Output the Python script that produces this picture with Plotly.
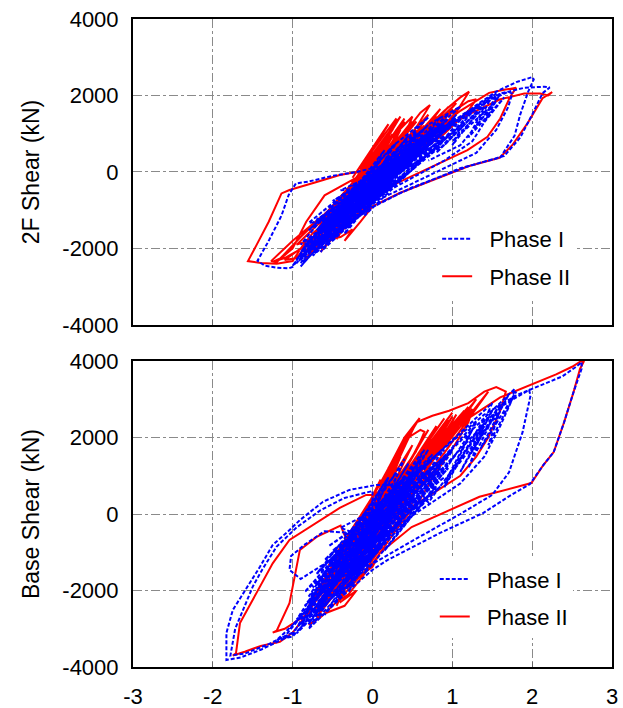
import plotly.graph_objects as go

# ---------------- data (drift %, shear kN) ----------------
# Top panel: 2F shear, Phase I
top_p1_x = [
    0.0, 0.15, 0.05, -0.15, -0.05, 0.2, 0.25, 0.15, -0.2, -0.3, -0.2, 0.1, 0.3, 0.35, 0.25, -0.1, -0.35, -0.4, -0.3, 0.0,
    0.4, 0.5, 0.4, 0.0, -0.45, -0.55, -0.45, -0.1, 0.3, 0.6, 0.7, 0.6, 0.2, -0.3, -0.6, -0.7, -0.6, -0.2,
    0.3, 0.8, 0.9, 0.8, 0.4, -0.2, -0.7, -0.8, -0.7, -0.3, 0.2, 0.7, 1.0, 1.05, 0.9, 0.5, 0.0, -0.5, -0.85, -0.9, -0.8, -0.4,
    0.1, 0.6, 1.0, 1.3, 1.55, 1.8, 2.0, 2.02, 1.95, 1.85, 1.78, 1.6, 1.1, 0.35, 0.0, -0.4, -0.8, -1.0, -0.95, -0.7, -0.4,
    0.0, 0.4, 0.55, 0.45, 0.1, -0.3, -0.5, -0.4, -0.1, 0.3, 0.65, 0.75, 0.6, 0.2, -0.2, -0.55, -0.65, -0.5, -0.1, 0.25, 0.5, 0.45, 0.1, -0.25, -0.35, -0.2,
    0.2, 0.7, 1.2, 1.6, 1.9, 2.15, 2.22, 2.13, 2.0, 1.85, 1.65, 1.2, 0.5, 0.1, -0.3, -0.7, -0.9, -0.85, -0.6,
    -0.2, 0.3, 0.7, 0.8, 0.6, 0.2, -0.2, -0.5, -0.8, -0.96, -1.05, -1.14, -1.3, -1.44, -1.35, -1.2, -1.05, -1.0, -0.85, -0.6, -0.3,
    0.2, 0.7, 1.1, 1.4, 1.55, 1.5, 1.4, 1.25, 0.9, 0.5, 0.1, -0.3, -0.6, -0.75, -0.65, -0.3, 0.2, 0.8, 1.2, 1.45, 1.7, 1.75, 1.7, 1.55, 1.3, 0.9, 0.4, 0.0, -0.3,
    -0.5, -0.6, -0.5, -0.2, 0.1, 0.4, 0.5, 0.4, 0.1, -0.2, -0.4, -0.3, 0.0, 0.3, 0.6, 0.85, 0.95, 0.85, 0.5, 0.1, -0.2, -0.45, -0.55, -0.4, -0.1, 0.2, 0.3, 0.2, 0.0,
    0.2, -0.4, 0.5, -0.2, 0.7, -0.6, 0.4, -0.3, 0.6, -0.7, 0.3, -0.5, 0.8, 0.0, 0.9, -0.8, 0.1, -0.45, 0.55, -0.1,
    0.75, -0.75, 0.2, -0.55, 0.65, -0.35, 1.0, -0.65, 0.45, -0.2, 0.85, -0.9, 0.15, -0.5, 0.35, -0.25, 0.95, -0.85,
    0.05, -0.4, 0.5, -0.15, 0.6, -0.6, 0.25, -0.7, 0.7, -0.3, 0.4, -0.05, 0.8, -0.5, 0.3, -0.75, 0.55, 0.0,
    1.2, 0.7, 1.35, 0.8, 1.3, 0.9, 1.45, 1.0, 1.15, 0.5,
    0.45, -0.65, 0.9, -0.1, 0.6, -0.8, 0.3, -0.5, 0.85, -0.35, 0.25, -0.9, 0.7, -0.2, 1.05,
    -0.55, 0.4, -0.75, 0.65, -0.45, 0.15, -0.95, 0.5, 0.05, 0.95, -0.6, 0.35, -0.25, 0.75, -0.15,
    -0.8, -0.3, -0.75, -0.25, -0.7, -0.2, -0.65, -0.15, -0.6, -0.1, -0.55, -0.05,
    0.45, 0.0, 0.5, 0.05, 0.55, 0.1, 0.6, 0.15, 0.65, 0.2, 0.7, 0.25,
    -0.3, 0.2, -0.25, 0.25, -0.2, 0.3, -0.15, 0.35, -0.1, 0.4,
    0.9, 0.5, 1.0, 0.6, 1.1, 0.7,
    -0.9, -0.5, -0.95, -0.55, -0.9, -0.6, 0.0,
    1.5, 1.3, 1.6, 1.4, 1.65, 1.2, 1.4, 1.0, 1.55, 1.1, 0.7,
]
top_p1_y = [
    0, 250, 50, -400, -200, 300, 420, 200, -500, -750, -550, 0, 400, 550, 350, -300, -900, -1050, -850, -300,
    450, 700, 500, -200, -1100, -1400, -1250, -600, 150, 800, 1000, 750, 0, -900, -1600, -1850, -1700, -900,
    100, 1100, 1300, 1000, 200, -700, -1800, -2050, -1900, -1100, -100, 700, 1400, 1500, 1100, 300, -500, -1400, -2150, -2250, -2050, -1300,
    -300, 500, 1250, 1750, 2100, 2350, 2480, 2420, 2100, 1500, 950, 380, 100, -550, -920, -1500, -2100, -2450, -2300, -1600, -1100,
    -400, 400, 750, 550, -100, -900, -1350, -1200, -600, 100, 850, 1100, 800, 100, -600, -1500, -1750, -1450, -700, 0, 600, 400, -150, -800, -1100, -850,
    100, 900, 1550, 2050, 2200, 2230, 2210, 2060, 1500, 900, 420, 150, -400, -800, -1300, -1900, -2300, -2150, -1500,
    -700, 300, 1000, 1150, 800, 200, 0, -100, -250, -300, -600, -1140, -1800, -2320, -2450, -2500, -2520, -2480, -1950, -1350, -800,
    150, 900, 1450, 1850, 2050, 1800, 1300, 800, 300, -150, -600, -1100, -1600, -1900, -1750, -1000, -50, 900, 1500, 1850, 2100, 2050, 1700, 1100, 500, 100, -400, -800, -1100,
    -1500, -1800, -1650, -1000, -300, 300, 550, 350, -250, -800, -1200, -1050, -400, 250, 700, 1200, 1400, 1150, 450, -200, -700, -1200, -1450, -1200, -600, 0, 200, 50, -200,
    380, -1330, 760, -1140, 950, -1520, -100, -380, 480, -1520, 760, -1800, 760, -570, 1240, -2000, 290, -1050, 1050, -1140,
    570, -2190, 0, -950, 950, -1330, 1240, -1800, 950, -760, 670, -2380, 100, -760, 290, -1330, 1520, -1900,
    -380, -480, 380, -290, 1050, -1800, -190, -1240, 670, -1050, 670, -860, 1140, -1430, -190, -1710, 570, -100,
    1600, 400, 1800, 500, 1550, 700, 1900, 700, 1300, 100,
    660, -2090, 950, -380, 570, -1520, 480, -1330, 1430, -1620, 670, -2090, 1240, -950, 1430,
    -1810, 290, -1330, 380, -1430, 570, -2380, 670, -670, 950, -1240, 100, -480, 950, -1140,
    -1330, -480, -1430, -570, -1520, -670, -1620, -760, -1710, -860, -1810, -950,
    0, -760, 290, -480, 570, -190, 860, 100, 1140, 380, 1430, 670,
    -570, 290, -670, 190, -760, 100, -860, 0, -950, -100,
    860, 290, 1330, 760, 1710, 1240,
    -2470, -1520, -2280, -1330, -1900, -1140, -190,
    2000, 1200, 2050, 1300, 1950, 900, 1700, 800, 1850, 700, 300,
]

# Top panel: 2F shear, Phase II
top_p2_x = [
    0.0, 0.3, 0.1, -0.2, -0.41, -0.7, -1.04, -1.14, -1.3, -1.45, -1.56, -1.4, -1.2, -1.0, -0.9, -0.75, -0.5, -0.2,
    0.0, 0.2, 0.35, 0.4, 0.3, 0.1, -0.1, -0.4, -0.6, -0.45, -0.2, 0.05, 0.25, 0.3, 0.2, 0.0, -0.2, -0.4, -0.3, -0.05, 0.15, 0.4, 0.5, 0.45, 0.25, -0.1, -0.4,
    -0.6, -0.8, -0.65, -0.4, -0.25, -0.35, -0.15, 0.0, -0.2, -0.45, -0.7, -0.9, -0.75, -0.5, -0.3, -0.05, 0.1, 0.3, 0.2, -0.1,
    0.2, 0.45, 0.6, 0.72, 0.65, 0.5, 0.3, 0.1, -0.2, -0.5, -0.8, -0.95, -0.8, -0.5, -0.1, 0.3, 0.6, 0.9, 1.1, 1.21, 1.15, 1.0, 0.8, 0.5, 0.2, -0.1,
    -0.6, -1.0, -1.27, -1.2, -1.0, -0.83, -0.6, -0.2, 0.3, 0.8, 1.1, 1.46, 1.65, 1.8, 1.75, 1.71, 1.6, 1.44, 1.19, 0.8, 0.4, 0.0, -0.3,
    -0.5, -0.9, -1.1, -0.95, -0.7, -0.3, 0.2, 0.7, 1.2, 1.6, 1.9, 2.1, 2.2, 2.25, 2.13, 1.95, 1.75, 1.59, 1.2, 0.34, 0.0, -0.4, -0.8, -1.1, -1.25, -1.15, -0.9, -0.6,
    -0.3, 0.1, 0.5, 0.9, 1.1, 1.0, 0.8, 0.6, 0.3, 0.0, -0.3, -0.55, -0.45, -0.2, 0.2, 0.6, 0.95, 1.2, 1.3, 1.2, 0.9, 0.5, 0.1, -0.1,
    0.3, -0.5, 0.45, -0.3, 0.2, -0.7, 0.5, -0.2, 0.35, -0.6, 0.6, -0.1, 0.4, -0.45, 0.15, -0.8, 0.55, -0.35, 0.25, -0.65,
    0.5, -0.15, 0.3, -0.55, 0.7, -0.25, 0.1, -0.4, 0.45, 0.0, 0.8, 0.4, 0.9, 0.5, 1.0, 0.6, 0.85, 0.2,
    0.4, -0.4, 0.25, -0.75, 0.55, -0.05, 0.35, -0.5, 0.65, -0.3, 0.2, -0.85, 0.5, -0.2, 0.45, -0.6,
    0.7, 0.45, 0.85, 0.55, 0.95, 0.6, 1.05, 0.7, 0.9, 0.4,
    -0.7, -0.3, -0.65, -0.25, -0.6, -0.2, -0.5, 0.1, 0.45, 0.1, 0.5, 0.15,
    -0.2, 0.3, 0.25, -0.1, 0.35, -0.15, 0.2, 0.15, -0.25,
]
top_p2_y = [
    0, 400, 150, 0, -80, -260, -470, -560, -1300, -1900, -2330, -2380, -2400, -2330, -2000, -1600, -1200, -700,
    -100, 600, 1200, 1400, 1100, 500, 0, -700, -1100, -800, -200, 500, 1100, 1300, 1000, 400, -200, -800, -600, 100, 700, 1250, 1450, 1200, 700, 0, -700,
    -1200, -1900, -1800, -1700, -1500, -1800, -1300, -900, -1200, -1650, -1900, -2100, -1950, -1500, -1250, -900, -500, 100, 300, -200,
    400, 1150, 1550, 1750, 1500, 1000, 500, 100, -400, -1000, -1600, -1900, -1800, -1300, -500, 300, 1000, 1600, 1950, 2100, 1900, 1400, 900, 300, -100, -500,
    -1100, -1800, -2330, -2350, -2000, -1300, -610, -150, 400, 1100, 1600, 2070, 2150, 2200, 2050, 1900, 1400, 920, 570, 200, -200, -600, -1000,
    -1400, -2000, -2300, -2250, -1600, -800, 100, 900, 1500, 1900, 2050, 2050, 2000, 2090, 1930, 1300, 700, 370, 150, -550, -900, -1400, -1900, -2250, -2350, -2250, -1700, -1100,
    -600, 100, 800, 1400, 1700, 1450, 1000, 600, 200, -200, -700, -1300, -1150, -600, 200, 900, 1500, 1850, 1900, 1600, 1000, 400, -100, -300,
    1100, -1320, 1210, -1320, 990, -1540, 880, -1210, 1100, -1760, 990, -440, 1320, -1760, 330, -1870, 1320, -990, 330, -2090,
    660, -880, 880, -1210, 990, -550, 660, -1210, 330, -330, 1450, 300, 1600, 400, 1650, 500, 1350, 0,
    880, -1540, 990, -1870, 1100, -770, 770, -1650, 1210, -660, 330, -2310, 1320, -880, 550, -1430,
    1500, 700, 1650, 800, 1700, 900, 1800, 1000, 1450, 500,
    -1980, -990, -1650, -660, -1320, -330, -880, 550, 990, 0, 660, -330,
    0, 1400, 1200, -100, 1450, 50, 1250, 1100, -150,
]

# Bottom panel: base shear, Phase I
base_p1_x = [
    0.0, 0.2, 0.1, -0.2, -0.35, -0.25, 0.05, 0.3, 0.4, 0.3, -0.05, -0.4, -0.55, -0.45, -0.1, 0.25, 0.5, 0.6, 0.5, 0.1, -0.3, -0.6, -0.7, -0.6, -0.2,
    0.3, 0.7, 0.9, 0.8, 0.5, 0.2, 0.05, -0.29, -0.62, -0.91, -1.04, -1.25, -1.41, -1.54, -1.75, -1.83, -1.83, -1.65, -1.4, -1.2, -1.0, -0.9, -0.7, -0.5, -0.2,
    0.2, 0.6, 1.0, 1.4, 1.8, 2.1, 2.38, 2.55, 2.62, 2.62, 2.52, 2.4, 2.27, 2.14, 1.97, 1.7, 1.39, 0.84, 0.19, 0.0, -0.3, -0.6, -0.8,
    -0.6, -0.3, 0.1, 0.5, 0.9, 1.3, 1.6, 1.78, 1.75, 1.6, 1.4, 1.1, 0.6, 0.1, -0.3, -0.7, -1.0, -1.1, -1.0, -0.7, -0.3, 0.2, 0.7, 1.2, 1.6, 1.96, 1.98, 1.88, 1.71, 1.5, 1.1, 0.5, 0.0, -0.4,
    -0.8, -0.5, -0.2, -0.6, -0.85, -1.02, -1.04, -0.9, -0.6, -0.3, 0.1, 0.45, 0.7, 0.8, 0.7, 0.4, 0.0, -0.35, -0.6, -0.75, -0.65, -0.4, 0.0, 0.35, 0.6, 0.9, 1.0, 0.9, 0.6, 0.2, -0.2, -0.5, -0.8, -1.2, -1.1, -0.9, -0.6, -0.3, 0.0,
    0.0, -0.35, -0.65, -0.95, -1.2, -1.38, -1.5, -1.72, -1.78, -1.6, -1.3, -1.0, -0.7,
    0.3, -0.5, 0.6, -0.3, 0.4, -0.7, 0.5, -0.2, 0.75, -0.8, 0.2, -0.45, 0.9, 0.0, 1.0, -0.9, 0.1, -0.5, 0.55, -0.1,
    0.8, -0.75, 0.25, -0.6, 0.7, -0.35, 0.95, -0.65, 0.45, -0.25, 0.85, -0.95, 0.15, -0.55, 0.35, -0.3, 0.65, -0.85,
    0.05, -0.4, 0.5, -0.15, 0.6, -0.6, 0.3, -0.7, 0.75, -0.3, 0.4, 0.0,
    1.3, 0.9, 1.5, 1.1, 1.6, 1.2, 1.4, 0.7,
    0.45, -0.6, 0.85, -0.15, 0.55, -0.85, 0.3, -0.45, 0.7, -0.3, 0.2, -0.95, 0.65,
    -0.05, 1.05, -0.7, 0.4, -0.5, 0.8, -0.2, 0.1, -0.8, 0.6, -0.35, 0.9, -0.65,
    -0.9, -0.4, -0.85, -0.35, -0.8, -0.3, -0.75, -0.25, -0.7, -0.2,
    0.3, -0.1, 0.4, 0.0, 0.5, 0.05, 0.55, 0.1, 0.6, 0.15,
    0.7, 0.3, 0.8, 0.4, 0.9, 0.5,
    -0.2, 0.2, -0.3, 0.1, -0.45, -0.05, -0.55, -0.15, -0.6, 0.0,
    1.5, 1.2, 1.7, 1.35, 1.8, 1.45, 1.6, 1.0, 1.4, 0.9, 1.25, 0.6,
]
base_p1_y = [
    0, 500, 300, -600, -1100, -900, -100, 600, 900, 650, -300, -1400, -2000, -1800, -700, 300, 1000, 1250, 950, -100, -1100, -2200, -2600, -2400, -1300,
    300, 1100, 1450, 1200, 900, 750, 760, 630, 320, -160, -420, -810, -1380, -1800, -2510, -3110, -3817, -3750, -3550, -3350, -3150, -2800, -2000, -1200, -400,
    300, 1200, 1900, 2600, 3100, 3350, 3600, 3850, 3970, 3800, 3200, 2400, 1620, 1280, 780, 450, 30, -500, -1200, -1460, -2000, -2600, -3000,
    -2300, -1300, -200, 700, 1500, 2300, 2900, 3270, 3000, 2300, 1500, 800, 100, -600, -1300, -2200, -2900, -3250, -3200, -2500, -1400, -300, 800, 1900, 2800, 3240, 3100, 2140, 1090, 500, 0, -700, -1300, -2000,
    -2700, -1200, -500, -450, -800, -1100, -1460, -1700, -1300, -900, -100, 600, 1100, 1350, 1050, 400, -400, -1300, -2100, -2600, -2400, -1600, -500, 300, 900, 1500, 1650, 1350, 700, -100, -900, -1700, -2500, -3300, -3200, -2700, -1900, -1000, -300,
    600, 420, 100, -350, -850, -1450, -1900, -3000, -3700, -3650, -3400, -3100, -2400,
    960, -1920, 1200, -1920, 1440, -2160, 120, -240, 1080, -2160, 960, -2280, 1200, -840, 1680, -2880, 600, -1320, 1320, -1560,
    720, -2880, 120, -1200, 1320, -1800, 1200, -2400, 1320, -1080, 720, -3120, 120, -840, 480, -2040, 1680, -2400,
    -720, -360, 600, -480, 480, -2400, -360, -1560, 1560, -1440, 720, -480,
    2400, 800, 2700, 1100, 2900, 1200, 2300, 300,
    960, -2640, 1200, -1200, 720, -2040, 720, -1680, 1680, -1680, 960, -2760, 1080,
    -1200, 1560, -2400, 480, -960, 1320, -1560, 120, -2880, 1440, -1080, 960, -1680,
    -3000, -1680, -2640, -1320, -2280, -960, -1920, -600, -1560, -240,
    1080, -120, 960, -240, 840, -480, 600, -720, 360, -960,
    480, -240, 1080, 360, 1680, 960,
    -1680, -600, -1680, -600, -1800, -600, -1560, -360, -1200, 0,
    2900, 1500, 3100, 1700, 3200, 1800, 2700, 1100, 2500, 700, 2200, 200,
]

# Bottom panel: base shear, Phase II
base_p2_x = [
    0.0, 0.3, 0.1, -0.08, -0.41, -0.75, -1.04, -1.25, -1.41, -1.66, -1.71, -1.75, -1.6, -1.4, -1.16, -1.0, -0.85, -0.7, -0.5, -0.3,
    0.0, 0.2, 0.4, 0.55, 0.59, 0.5, 0.3, 0.1, -0.1, -0.3, -0.2, 0.05, 0.25, 0.44, 0.48, 0.4, 0.2, 0.0, -0.2, -0.1, 0.1, 0.3, 0.45, 0.6, 0.65, 0.6, 0.4, 0.15, -0.1,
    -0.4, 0.0, 0.34, 0.55, 0.75, 0.96, 1.2, 1.4, 1.55, 1.67, 1.6, 1.45, 1.3, 1.1, 0.8, 0.5, 0.2, -0.2, -0.5, -0.7, -0.6, -0.3, 0.1, 0.5, 0.9, 1.1, 1.25, 1.2, 1.0, 0.8, 0.5, 0.1,
    -0.3, 0.2, 0.7, 1.2, 1.6, 2.0, 2.3, 2.5, 2.6, 2.65, 2.6, 2.52, 2.4, 2.27, 2.14, 1.99, 1.34, 0.49, 0.09, 0.0, -0.4, -0.8, -1.1, -1.25, -1.2, -1.04, -0.91, -0.7, -0.4,
    -0.3, -0.5, -0.4, -0.2, -0.35, -0.6, -0.8, -0.65, -0.4, -0.1, 0.1, 0.3, 0.5, 0.4, 0.1, -0.2, -0.45, -0.3, 0.0, 0.3, 0.6, 0.8, 0.9, 0.8, 0.5, 0.1, -0.2,
    0.3, -0.5, 0.45, -0.3, 0.2, -0.7, 0.5, -0.2, 0.35, -0.6, 0.6, -0.1, 0.4, -0.45, 0.15, -0.8, 0.55, -0.35, 0.25, -0.65,
    0.5, -0.15, 0.3, -0.55, 0.7, -0.25, 0.1, -0.4, 0.45, 0.0, 0.85, 0.35, 1.0, 0.5, 1.15, 0.6, 0.95, 0.2,
    0.4, -0.4, 0.25, -0.75, 0.55, -0.05, 0.35, -0.5, 0.65, -0.3, 0.2, -0.85, 0.5, -0.2, 0.45, -0.6,
    0.9, 0.3, 1.0, 0.4, 1.15, 0.5, 1.25, 0.6, 1.05, 0.7, 1.2, 0.55, 0.8, 0.2, 0.7, 0.15, 0.95, 0.35, 1.3, 0.8, 1.45, 0.9, 0.3,
    -0.7, -0.3, -0.65, -0.25, -0.6, -0.2, -0.55, 0.0, 0.35, 0.05, 0.4, 0.1,
]
base_p2_y = [
    0, 1000, 500, 500, 160, -290, -680, -1290, -1900, -2850, -3640, -3700, -3600, -3450, -3340, -3100, -2700, -2000, -1400, -800,
    200, 1200, 2000, 2400, 2510, 2200, 1300, 500, -300, -1000, -700, 300, 1300, 2100, 2200, 1900, 1000, 200, -600, -300, 600, 1400, 2000, 2200, 2150, 1900, 1100, 300, -400,
    -1500, -200, 1500, 2400, 2570, 2700, 2900, 3200, 3320, 3200, 2700, 2000, 1500, 1000, 600, 200, -300, -1100, -1900, -2400, -2300, -1500, -400, 800, 2000, 2500, 2700, 2400, 1700, 1100, 500, -100,
    -1000, 300, 1400, 2500, 3050, 3400, 3650, 3850, 3980, 4000, 3800, 3200, 2400, 1620, 1280, 810, 450, -340, -1020, -1380, -2000, -2600, -3000, -3100, -3050, -2330, -940, -600, -300,
    -800, -1800, -2300, -2000, -2400, -2600, -2900, -2700, -2200, -1500, -900, -300, 300, 0, -700, -1500, -2300, -2100, -1300, -400, 400, 1100, 1500, 1200, 500, -300, -900,
    1200, -2100, 1350, -1800, 1200, -2250, 900, -1350, 1500, -2400, 1050, -600, 1800, -2400, 450, -2400, 1650, -1200, 300, -2550,
    600, -1050, 1050, -1500, 1200, -600, 900, -1650, 450, -300, 2200, 500, 2550, 800, 2650, 900, 2400, 0,
    1200, -2100, 1350, -2250, 1350, -1050, 1050, -1950, 1800, -1050, 450, -2700, 1800, -1200, 750, -1950,
    2500, 700, 2650, 900, 2700, 1000, 2750, 1100, 2600, 1300, 2800, 1200, 2300, 400, 2200, 300, 2450, 600, 3000, 1500, 3200, 1600, 0,
    -2700, -1350, -2250, -900, -1800, -450, -1350, 450, 1050, -150, 600, -600,
]

series_names = ["Phase I", "Phase II"]
x_ticks = [-3, -2, -1, 0, 1, 2, 3]
x_tick_labels = ["-3", "-2", "-1", "0", "1", "2", "3"]
y_ticks = [-4000, -2000, 0, 2000, 4000]
y_tick_labels = ["-4000", "-2000", "0", "2000", "4000"]
y_titles = ["2F Shear (kN)", "Base Shear (kN)"]

# ---------------- figure ----------------
FONT = "Arial, Liberation Sans, sans-serif"
BLUE = "#0000FF"
RED = "#FF0000"
GAP = "\u00a0\u00a0"  # small gap between legend line sample and label

fig = go.Figure()


def add_pair(p1x, p1y, p2x, p2y, xa, ya, leg):
    # red drawn first so the blue core sits on top; legend order fixed by rank
    fig.add_trace(go.Scatter(x=p2x, y=p2y, mode="lines", name=GAP + series_names[1],
                             line=dict(color=RED, width=2),
                             xaxis=xa, yaxis=ya, legend=leg, legendgroup=leg + "b", legendrank=2))
    fig.add_trace(go.Scatter(x=p1x, y=p1y, mode="lines", name=GAP + series_names[0],
                             line=dict(color=BLUE, width=2, dash="4px,2px"),
                             xaxis=xa, yaxis=ya, legend=leg, legendgroup=leg + "a", legendrank=1))


add_pair(top_p1_x, top_p1_y, top_p2_x, top_p2_y, "x", "y", "legend")
add_pair(base_p1_x, base_p1_y, base_p2_x, base_p2_y, "x2", "y2", "legend2")

tickfont = dict(family=FONT, size=22, color="black")
axis_common = dict(
    range=[-3, 3], tickvals=x_ticks, ticktext=x_tick_labels, showline=True, mirror=True,
    linecolor="black", linewidth=2, automargin=False,
    showgrid=True, gridcolor="#8a8a8a", griddash="dashdot", gridwidth=1, zeroline=False,
    ticks="inside", ticklen=5, tickcolor="#666", tickfont=tickfont,
)
yaxis_common = dict(
    range=[-4000, 4000], tickvals=y_ticks, ticktext=y_tick_labels, showline=True, mirror=True,
    linecolor="black", linewidth=2, automargin=False,
    showgrid=True, gridcolor="#8a8a8a", griddash="dashdot", gridwidth=1, zeroline=False,
    ticks="", tickfont=tickfont, ticklabelstandoff=8,
)
legfont = dict(family=FONT, size=22, color="black")

fig.update_layout(
    width=623, height=708,
    margin=dict(l=133, r=11, t=19, b=41),
    paper_bgcolor="white", plot_bgcolor="white",
    font=dict(family=FONT, color="black"),
    showlegend=True,
    xaxis=dict(axis_common, domain=[0, 1], anchor="y", showticklabels=False),
    yaxis=dict(yaxis_common, domain=[0.5278, 1], anchor="x",
               title=dict(text=y_titles[0], font=dict(family=FONT, size=23), standoff=16)),
    xaxis2=dict(axis_common, domain=[0, 1], anchor="y2", ticklabelstandoff=9),
    yaxis2=dict(yaxis_common, domain=[0, 0.4722], anchor="x2",
                title=dict(text=y_titles[1], font=dict(family=FONT, size=23), standoff=16)),
    legend=dict(x=0.635, y=0.693, xanchor="left", yanchor="top", bgcolor="white",
                font=legfont, tracegroupgap=6),
    legend2=dict(x=0.63, y=0.168, xanchor="left", yanchor="top", bgcolor="white",
                 font=legfont, tracegroupgap=6),
)

fig.write_html("out.html", config={"displayModeBar": False},
               post_script="document.body.style.margin='0';")
